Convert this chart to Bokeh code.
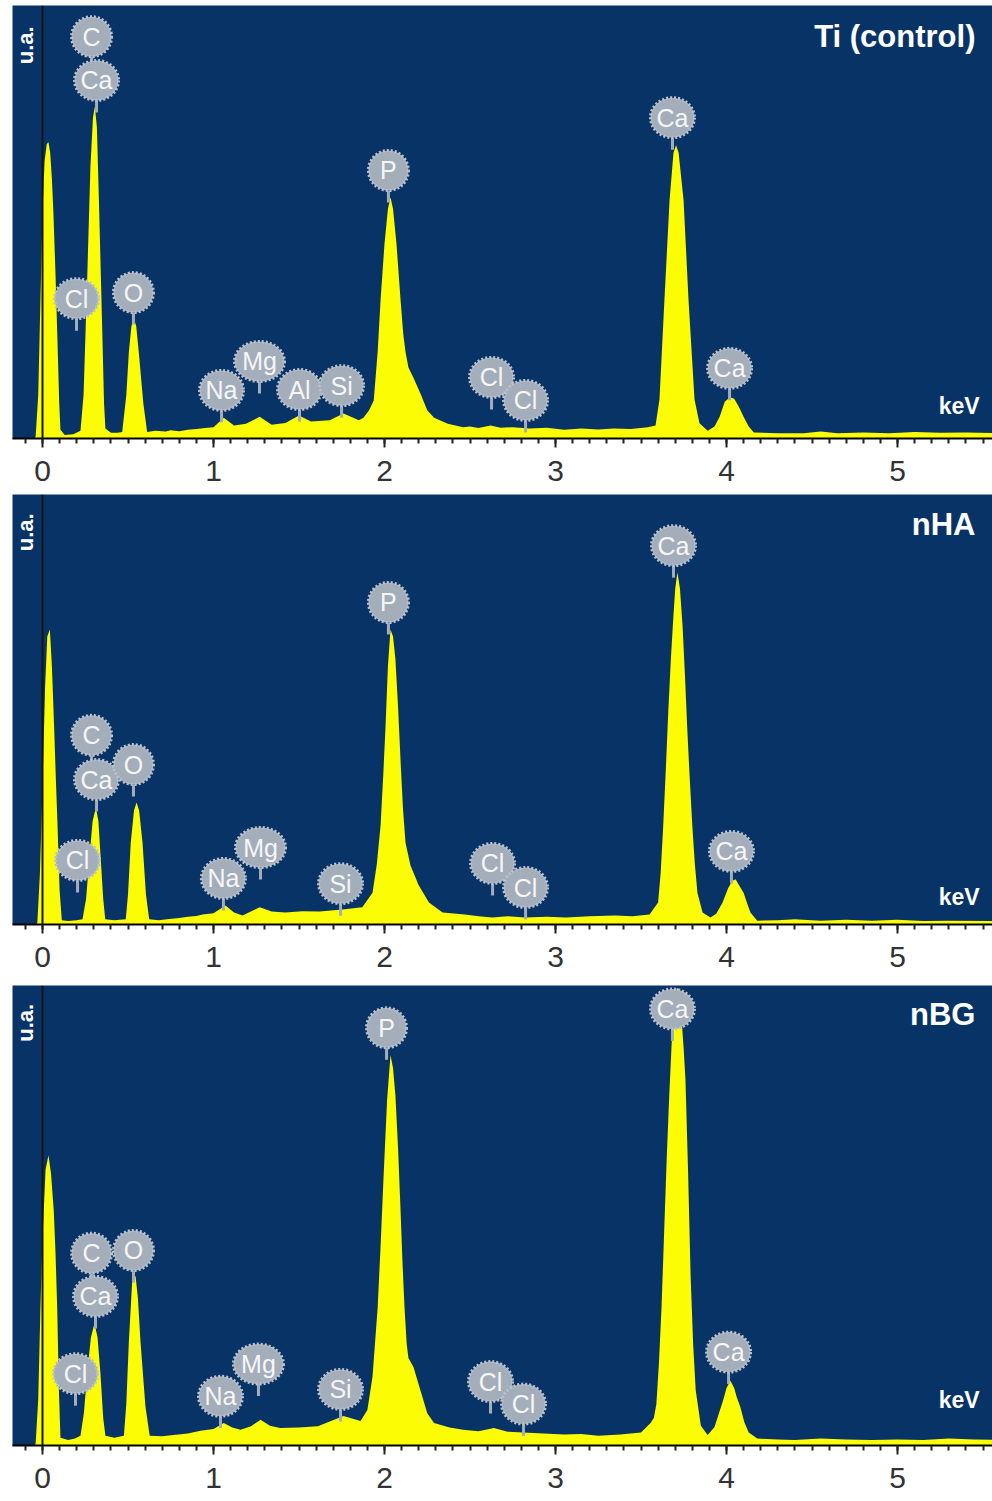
from bokeh.plotting import figure
from bokeh.layouts import column
from bokeh.models import Range1d, FixedTicker, Span, Label
from bokeh.core.properties import value
from bokeh.embed import file_html
from bokeh.resources import INLINE

# ---------------- data ----------------
kev_ticks = [0, 1, 2, 3, 4, 5]
kev_minor_ticks = [round(-0.1 + 0.1 * i, 1) for i in range(58)]

# (energy keV, intensity % of panel height)
ti_spectrum = [(-0.175, 0), (-0.045, 0), (-0.04, 0.5), (-0.025, 10), (-0.012, 32), (0.0, 52),
               (0.012, 64), (0.025, 68), (0.035, 68.4), (0.045, 66), (0.055, 60), (0.064, 52),
               (0.076, 38), (0.088, 22), (0.098, 8), (0.105, 2), (0.13, 0.8), (0.18, 1.0),
               (0.222, 1.8), (0.24, 10), (0.26, 35), (0.28, 62.6), (0.295, 74), (0.306, 76.7),
               (0.318, 72), (0.33, 55), (0.35, 24), (0.36, 8), (0.368, 2.3), (0.40, 1.3),
               (0.44, 1.3), (0.466, 1.5), (0.49, 10), (0.505, 20), (0.52, 26), (0.534, 27.7),
               (0.548, 26), (0.563, 20), (0.59, 8), (0.612, 1.5), (0.66, 1.8), (0.72, 1.6),
               (0.75, 1.9), (0.8, 1.7), (0.85, 2.0), (0.9, 2.2), (0.95, 2.4), (1.0, 2.6),
               (1.06, 4.8), (1.12, 3.0), (1.19, 3.4), (1.27, 5.0), (1.34, 3.2), (1.42, 3.6),
               (1.5, 5.3), (1.57, 3.9), (1.68, 4.2), (1.76, 5.8), (1.85, 4.2), (1.877, 4.8),
               (1.91, 6.5), (1.937, 8.8), (1.96, 20), (1.977, 32), (2.0, 45), (2.02, 53),
               (2.035, 55.7), (2.05, 53), (2.07, 45), (2.094, 32), (2.11, 24), (2.123, 20),
               (2.14, 16.4), (2.17, 14), (2.21, 10.4), (2.25, 6.5), (2.29, 4.8), (2.37, 3.4),
               (2.46, 2.6), (2.5, 2.8), (2.55, 2.4), (2.62, 3.0), (2.68, 2.5), (2.75, 2.6),
               (2.85, 2.3), (2.95, 2.5), (3.05, 2.0), (3.15, 2.3), (3.25, 2.1), (3.34, 2.3),
               (3.44, 2.2), (3.54, 2.6), (3.585, 3.0), (3.608, 9), (3.637, 32), (3.667, 55),
               (3.69, 66), (3.705, 67.7), (3.72, 66), (3.749, 55), (3.778, 32), (3.813, 9),
               (3.842, 3.5), (3.89, 1.8), (3.93, 2.8), (3.96, 5), (3.99, 8.5), (4.02, 9.5),
               (4.045, 9.2), (4.07, 7.5), (4.1, 5), (4.13, 2.8), (4.16, 1.4), (4.3, 1.2),
               (4.45, 1.2), (4.55, 1.6), (4.65, 1.2), (4.8, 1.4), (4.95, 1.2), (5.1, 1.5),
               (5.25, 1.3), (5.4, 1.4), (5.6, 1.2)]

nha_spectrum = [(-0.175, 0), (-0.035, 0), (-0.03, 0.5), (-0.015, 12), (0.0, 32), (0.015, 55),
                (0.028, 67), (0.043, 68.6), (0.055, 60), (0.068, 46), (0.078, 34), (0.088, 23),
                (0.1, 8), (0.113, 1.0), (0.15, 0.8), (0.2, 1.0), (0.234, 1.2), (0.255, 6),
                (0.273, 15), (0.293, 24), (0.312, 27.2), (0.327, 24), (0.341, 15), (0.355, 6),
                (0.367, 1.2), (0.42, 1.0), (0.487, 1.2), (0.5, 7), (0.516, 19), (0.535, 26.5),
                (0.55, 28.4), (0.565, 26.5), (0.585, 19), (0.605, 7), (0.624, 1.2), (0.68, 1.0),
                (0.74, 1.3), (0.8, 1.5), (0.85, 1.8), (0.9, 2.0), (0.936, 2.3), (1.0, 2.6),
                (1.07, 4.4), (1.12, 2.8), (1.17, 2.1), (1.27, 4.0), (1.34, 3.0), (1.42, 2.8),
                (1.52, 3.1), (1.62, 3.0), (1.754, 3.5), (1.87, 4.0), (1.93, 7.4), (1.955, 14),
                (1.977, 23), (1.993, 35), (2.006, 46), (2.02, 60), (2.035, 68.6), (2.05, 67),
                (2.064, 61.6), (2.08, 50), (2.094, 38), (2.108, 27), (2.123, 19), (2.152, 13.7),
                (2.2, 9.1), (2.26, 5.1), (2.34, 2.8), (2.47, 2.3), (2.55, 1.9), (2.63, 1.6),
                (2.72, 1.9), (2.82, 1.6), (2.95, 1.8), (3.06, 1.6), (3.2, 1.9), (3.35, 2.1),
                (3.45, 1.9), (3.55, 2.3), (3.6, 5.1), (3.615, 12), (3.63, 23), (3.645, 36),
                (3.66, 50), (3.675, 62), (3.69, 72), (3.70, 78), (3.713, 81.9), (3.728, 78),
                (3.743, 69.5), (3.757, 58), (3.77, 46), (3.785, 34), (3.80, 23), (3.815, 14),
                (3.83, 7.4), (3.86, 2.8), (3.906, 1.6), (3.94, 2.5), (3.977, 5.1), (4.01, 8.5),
                (4.035, 10.2), (4.053, 10.5), (4.075, 9), (4.1, 7.4), (4.12, 5), (4.14, 2.8),
                (4.18, 0.9), (4.3, 1.0), (4.4, 1.2), (4.55, 0.9), (4.7, 1.1), (4.85, 0.9),
                (5.0, 1.1), (5.15, 0.8), (5.3, 0.9), (5.6, 0.8)]

nbg_spectrum = [(-0.175, 0), (-0.045, 0), (-0.04, 0.5), (-0.025, 10), (-0.012, 30), (0.0, 45),
                (0.018, 60), (0.035, 63.1), (0.05, 59), (0.066, 51), (0.076, 42), (0.086, 30),
                (0.096, 12), (0.105, 1.7), (0.15, 1.2), (0.19, 1.5), (0.222, 2.1), (0.242, 7),
                (0.261, 15.6), (0.283, 23.5), (0.304, 26.6), (0.322, 23.5), (0.339, 15.6),
                (0.355, 6), (0.368, 2.1), (0.42, 1.7), (0.476, 2.1), (0.49, 9), (0.505, 22.6),
                (0.524, 35.4), (0.544, 36.9), (0.558, 32), (0.573, 22.6), (0.602, 8.5),
                (0.627, 2.1), (0.7, 2.0), (0.767, 2.3), (0.85, 2.6), (0.924, 3.2), (1.0, 3.6),
                (1.06, 4.9), (1.11, 3.9), (1.158, 3.4), (1.22, 4.2), (1.275, 5.6), (1.33, 4.3),
                (1.39, 3.8), (1.5, 3.9), (1.61, 4.2), (1.68, 5.2), (1.76, 6.4), (1.86, 5.3),
                (1.9, 7.7), (1.93, 15), (1.96, 30), (1.978, 44), (1.994, 58), (2.015, 75),
                (2.035, 84.9), (2.05, 82), (2.064, 76), (2.08, 64), (2.094, 51), (2.105, 40),
                (2.117, 30), (2.13, 22), (2.14, 19), (2.17, 17), (2.21, 12), (2.25, 7),
                (2.29, 4.9), (2.38, 3.9), (2.46, 3.4), (2.55, 3.1), (2.64, 3.8), (2.72, 3.0),
                (2.81, 2.8), (2.93, 2.6), (3.05, 2.4), (3.15, 2.5), (3.25, 2.1), (3.38, 2.4),
                (3.5, 2.8), (3.556, 4.9), (3.575, 6), (3.59, 9), (3.605, 18), (3.62, 30),
                (3.635, 46), (3.65, 62), (3.665, 76), (3.68, 88), (3.695, 96), (3.71, 99.5),
                (3.722, 99), (3.735, 94), (3.75, 86), (3.76, 79.5), (3.775, 60), (3.79, 37),
                (3.805, 22), (3.82, 12), (3.85, 4.3), (3.89, 2.3), (3.93, 4), (3.96, 7.5),
                (3.98, 9.8), (4.0, 12.5), (4.023, 14.1), (4.045, 12.5), (4.06, 10.5),
                (4.08, 8.5), (4.105, 5), (4.13, 2.8), (4.18, 1.5), (4.3, 1.3), (4.4, 1.2),
                (4.55, 1.5), (4.7, 1.3), (4.85, 1.2), (5.0, 1.3), (5.15, 1.2), (5.3, 1.5),
                (5.45, 1.3), (5.6, 1.2)]

ti_elements = ["C", "Ca", "Cl", "O", "Na", "Mg", "Al", "Si", "P", "Cl", "Cl", "Ca", "Ca"]
ti_label_kev = [0.287, 0.316, 0.199, 0.532, 1.047, 1.269, 1.503, 1.749, 2.023, 2.626, 2.825, 3.684, 4.018]
ti_label_level = [92.8, 82.7, 32.3, 33.7, 11.1, 17.8, 11.3, 12.2, 61.9, 14.1, 8.8, 74.1, 16.2]

nha_elements = ["C", "Ca", "Cl", "O", "Na", "Mg", "Si", "P", "Cl", "Cl", "Ca", "Ca"]
nha_label_kev = [0.287, 0.316, 0.205, 0.532, 1.058, 1.275, 1.743, 2.023, 2.632, 2.825, 3.690, 4.029]
nha_label_level = [44.0, 33.7, 14.9, 37.2, 10.7, 17.9, 9.5, 74.9, 14.2, 8.6, 88.1, 17.0]

nbg_elements = ["C", "Ca", "Cl", "O", "Na", "Mg", "Si", "P", "Cl", "Cl", "Ca", "Ca"]
nbg_label_kev = [0.287, 0.310, 0.193, 0.532, 1.041, 1.263, 1.743, 2.012, 2.620, 2.813, 3.684, 4.012]
nbg_label_level = [41.8, 32.4, 15.6, 42.4, 10.7, 17.7, 12.2, 90.8, 13.9, 9.0, 94.9, 20.3]

panel_titles = ["Ti (control)", "nHA", "nBG"]

# ---------------- styling ----------------
BG = "#083366"
YELLOW = "#fcfc04"
BALLOON = "#a4adba"
BALLOON_EDGE = "#bac1cc"
FONT = "Liberation Sans"
FRAME_W = 980
PX_PER_KEV = 171.0
X0 = -30.0 / PX_PER_KEV
X1 = X0 + FRAME_W / PX_PER_KEV


def make_panel(spectrum, elements, lab_x, lab_y, title, title_y, kev_y, ua_y,
               frame_h, top_border, bottom_border):
    p = figure(frame_width=FRAME_W, frame_height=frame_h,
               x_range=Range1d(X0, X1), y_range=Range1d(0, 100),
               output_backend="svg", toolbar_location=None,
               y_axis_location=None,
               min_border_left=12, min_border_right=0,
               min_border_top=top_border, min_border_bottom=bottom_border,
               background_fill_color=BG, border_fill_color="white",
               outline_line_color=None)
    p.grid.visible = False

    ax = p.xaxis[0]
    ax.ticker = FixedTicker(ticks=kev_ticks, minor_ticks=kev_minor_ticks)
    ax.axis_line_color = "black"
    ax.axis_line_width = 2
    ax.major_tick_in = 0
    ax.major_tick_out = 9
    ax.minor_tick_in = 0
    ax.minor_tick_out = 5
    ax.major_tick_line_color = "#222222"
    ax.minor_tick_line_color = "#222222"
    ax.major_tick_line_width = 2
    ax.minor_tick_line_width = 2
    ax.major_label_text_font = FONT
    ax.major_label_text_font_size = "30px"
    ax.major_label_text_color = "#333333"
    ax.major_label_standoff = 13

    xs = [e for e, _ in spectrum]
    ys = [c for _, c in spectrum]
    p.varea(x=xs, y1=0, y2=ys, fill_color=YELLOW)

    p.add_layout(Span(location=0, dimension="height", line_color="#141414", line_width=2))

    # balloons with stems
    stem_y = [y - 26.0 / frame_h * 100 for y in lab_y]
    p.rect(x=lab_x, y=stem_y, width=3, height=12, width_units="screen", height_units="screen",
           fill_color=BALLOON, line_color=None)
    widths = [40 if len(e) == 1 else (50 if e == "Mg" else 44) for e in elements]
    p.ellipse(x=lab_x, y=lab_y, width=widths, height=40,
              width_units="screen", height_units="screen",
              fill_color=BALLOON, line_color=BALLOON_EDGE, line_width=3, line_dash="2 2")
    p.text(x=lab_x, y=lab_y, text=elements, text_align="center", text_baseline="middle",
           text_font=value(FONT), text_font_size="25px", text_color="#f6f6f6")

    p.add_layout(Label(x=5.456, y=title_y, text=title, text_align="right",
                       text_baseline="middle", text_font=FONT, text_font_size="31px",
                       text_font_style="bold", text_color="white"))
    p.add_layout(Label(x=5.48, y=kev_y, text="keV", text_align="right",
                       text_baseline="middle", text_font=FONT, text_font_size="23px",
                       text_font_style="bold", text_color="white"))
    p.add_layout(Label(x=-0.099, y=ua_y, text="u.a.", angle=1.5708, text_align="center",
                       text_baseline="middle", text_font=FONT, text_font_size="22px",
                       text_font_style="bold", text_color="white"))
    return p


p1 = make_panel(ti_spectrum, ti_elements, ti_label_kev, ti_label_level,
                panel_titles[0], 92.8, 7.6, 90.8, 433, 5, 56)
p2 = make_panel(nha_spectrum, nha_elements, nha_label_kev, nha_label_level,
                panel_titles[1], 93.0, 6.3, 91.2, 430, 0, 56)
p3 = make_panel(nbg_spectrum, nbg_elements, nbg_label_kev, nbg_label_level,
                panel_titles[2], 93.6, 9.8, 91.9, 460, 5, 56)

layout = column(p1, p2, p3, spacing=0)
open("out.html", "w").write(file_html(layout, INLINE))
